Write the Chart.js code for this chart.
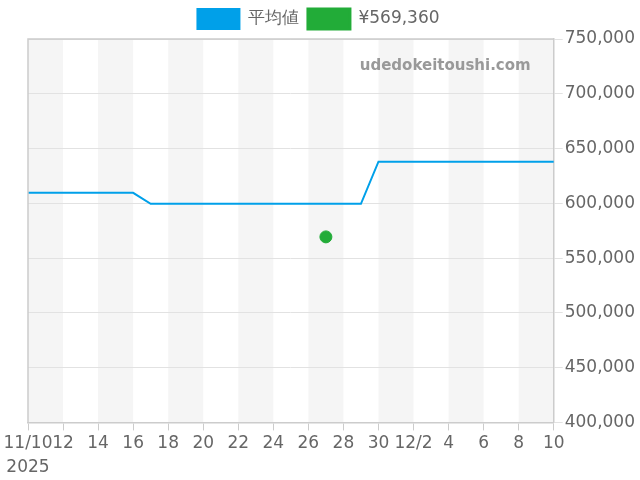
<!DOCTYPE html>
<html>
<head>
<meta charset="utf-8">
<script src="https://cdn.jsdelivr.net/npm/chart.js@4/dist/chart.umd.min.js"></script>
<style>
  body { margin: 0; background: #fff; }
  #wrap { width: 640px; height: 480px; }
</style>
</head>
<body>
<div id="wrap"><canvas id="grafica"></canvas></div>
<script>
// Datos diarios 11/10/2025 - 12/10/2025
const dias = [
  "11/10", "11/11", "11/12", "11/13", "11/14", "11/15", "11/16", "11/17", "11/18", "11/19",
  "11/20", "11/21", "11/22", "11/23", "11/24", "11/25", "11/26", "11/27", "11/28", "11/29",
  "11/30", "12/1", "12/2", "12/3", "12/4", "12/5", "12/6", "12/7", "12/8", "12/9", "12/10"
];
const promedio = [
  609600, 609600, 609600, 609600, 609600, 609600, 609600,
  599500, 599500, 599500, 599500, 599500, 599500, 599500, 599500, 599500, 599500, 599500, 599500, 599500,
  638000, 638000, 638000, 638000, 638000, 638000, 638000, 638000, 638000, 638000, 638000
];
const diaPrecio = "11/27";
const precio = 569360;
// etiquetas del eje x (una cada dos días)
const etiquetasX = [
  ["11/10", "2025"], "12", "14", "16", "18", "20", "22", "24", "26", "28",
  "30", "12/2", "4", "6", "8", "10"
];

const puntoPrecio = dias.map(d => d === diaPrecio ? precio : null);

// franjas grises alternas + marco del área
const fondoFranjas = {
  id: 'fondoFranjas',
  beforeDraw(chart) {
    const { ctx, chartArea, scales } = chart;
    ctx.save();
    ctx.fillStyle = '#f5f5f5';
    for (let i = 0; i < dias.length - 1; i += 4) {
      const x0 = scales.x.getPixelForValue(i);
      const x1 = scales.x.getPixelForValue(Math.min(i + 2, dias.length - 1));
      ctx.fillRect(x0, chartArea.top, x1 - x0, chartArea.bottom - chartArea.top);
    }
    ctx.restore();
  },
  afterDraw(chart) {
    const { ctx, chartArea } = chart;
    ctx.save();
    ctx.strokeStyle = '#cccccc';
    ctx.lineWidth = 1.5;
    ctx.beginPath();
    ctx.moveTo(chartArea.left, chartArea.bottom);
    ctx.lineTo(chartArea.left, chartArea.top);
    ctx.lineTo(chartArea.right, chartArea.top);
    ctx.stroke();
    ctx.font = 'bold 15px "DejaVu Sans"';
    ctx.fillStyle = '#999999';
    ctx.textAlign = 'right';
    ctx.textBaseline = 'middle';
    ctx.fillText('udedokeitoushi.com', chartArea.right - 23, chartArea.top + 27);
    ctx.restore();
  }
};

new Chart(document.getElementById('grafica'), {
  type: 'line',
  data: {
    labels: dias,
    datasets: [
      {
        label: '平均値', data: promedio,
        borderColor: '#00a0e9', backgroundColor: '#00a0e9',
        borderWidth: 2, pointRadius: 0, tension: 0
      },
      {
        label: '¥569,360', data: puntoPrecio,
        borderColor: '#22ac38', backgroundColor: '#22ac38',
        showLine: false, pointRadius: 6, pointHoverRadius: 6
      }
    ]
  },
  options: {
    responsive: true,
    maintainAspectRatio: false,
    animation: false,
    layout: { padding: { left: 0, right: 3 } },
    plugins: {
      legend: {
        labels: {
          boxWidth: 42, boxHeight: 20, color: '#666', padding: 9,
          font: { family: '"DejaVu Sans"', size: 17 }
        }
      },
      tooltip: { enabled: false }
    },
    scales: {
      x: {
        afterFit: s => { s.paddingLeft = 28; },
        grid: { drawOnChartArea: false, tickLength: 8, color: '#cccccc' },
        border: { color: '#cccccc', width: 1.5 },
        ticks: {
          autoSkip: false, maxRotation: 0, color: '#666', padding: 1,
          font: { family: '"DejaVu Sans"', size: 17, lineHeight: 1.4 },
          callback: (v, i) => i % 2 === 0 ? etiquetasX[i / 2] : null
        }
      },
      y: {
        position: 'right',
        min: 400000, max: 750000,
        grid: { color: '#e2e2e2', tickLength: 9 },
        border: { color: '#cccccc', width: 1.5 },
        ticks: {
          stepSize: 50000, color: '#666', padding: 2,
          font: { family: '"DejaVu Sans"', size: 17 },
          callback: v => v.toLocaleString('en-US')
        }
      }
    }
  },
  plugins: [fondoFranjas]
});
</script>
</body>
</html>
